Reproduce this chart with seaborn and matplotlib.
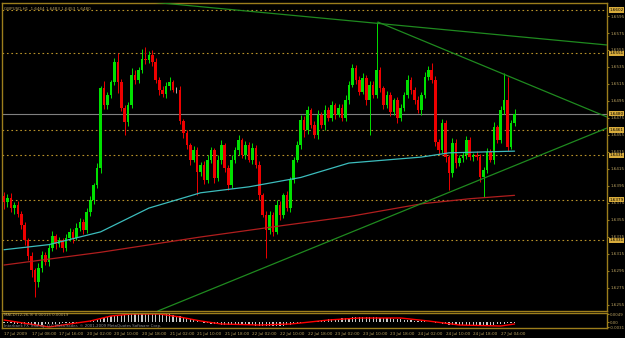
import numpy as np
import pandas as pd
import matplotlib
matplotlib.use("Agg")
import matplotlib.pyplot as plt
import seaborn as sns
from matplotlib.transforms import blended_transform_factory

# GBPUSD H1 closes, 17 Jul 2009 -> 27 Jul 2009 (open = previous close)
first_open = 1.6383
closes = [
    1.6376, 1.6381, 1.6369, 1.6373, 1.6362, 1.6349, 1.6331, 1.6313, 1.6296, 1.6282,
    1.6299, 1.6314, 1.6306, 1.6322, 1.6336, 1.6327, 1.6331, 1.6322, 1.6334, 1.6341,
    1.6334, 1.6346, 1.6353, 1.6343, 1.6364, 1.6379, 1.6396, 1.6416, 1.6510, 1.6490,
    1.6502, 1.6517, 1.6541, 1.6517, 1.6487, 1.6470, 1.6490, 1.6526, 1.6520, 1.6531,
    1.6544, 1.6543, 1.6549, 1.6541, 1.6520, 1.6508, 1.6503, 1.6513, 1.6517, 1.6508,
    1.6508, 1.6471, 1.6457, 1.6443, 1.6426, 1.6437, 1.6411, 1.6420, 1.6402, 1.6426,
    1.6437, 1.6404, 1.6426, 1.6443, 1.6416, 1.6396, 1.6426, 1.6437, 1.6449, 1.6431,
    1.6443, 1.6426, 1.6440, 1.6420, 1.6384, 1.6361, 1.6343, 1.6361, 1.6341, 1.6373,
    1.6361, 1.6384, 1.6369, 1.6402, 1.6426, 1.6443, 1.6473, 1.6461, 1.6484, 1.6467,
    1.6455, 1.6479, 1.6467, 1.6484, 1.6475, 1.6490, 1.6479, 1.6487, 1.6475, 1.6496,
    1.6514, 1.6534, 1.6520, 1.6506, 1.6522, 1.6496, 1.6514, 1.6502, 1.6531, 1.6510,
    1.6490, 1.6502, 1.6482, 1.6496, 1.6475, 1.6487, 1.6502, 1.6520, 1.6508, 1.6496,
    1.6484, 1.6502, 1.6523, 1.6531, 1.6520, 1.6447, 1.6437, 1.6469, 1.6429, 1.6410,
    1.6446, 1.6422, 1.6428, 1.6431, 1.6449, 1.6429, 1.6431, 1.6429, 1.6406, 1.6414,
    1.6435, 1.6426, 1.6464, 1.6449, 1.6484, 1.6496, 1.6441, 1.6469, 1.6480,
]
# wick lengths in pips
upper_wick = [
    5, 4, 6, 3, 4, 3, 4, 3, 4, 3, 5, 4, 3, 5, 6, 3, 4, 3, 5, 4,
    3, 5, 4, 3, 5, 4, 3, 6, 3, 8, 4, 3, 5, 11, 4, 3, 4, 8, 6, 4,
    12, 14, 5, 6, 4, 3, 5, 4, 6, 3, 4, 5, 3, 4, 3, 5, 4, 3, 4, 5,
    4, 3, 5, 6, 3, 4, 5, 4, 6, 3, 5, 4, 6, 3, 4, 3, 5, 4, 3, 5,
    4, 3, 5, 4, 3, 5, 6, 4, 5, 3, 4, 5, 3, 6, 4, 5, 3, 4, 5, 6,
    4, 5, 3, 4, 6, 3, 5, 4, 57, 4, 3, 5, 4, 3, 4, 5, 4, 6, 3, 4,
    5, 4, 6, 5, 9, 4, 3, 5, 4, 3, 5, 4, 3, 4, 5, 4, 3, 5, 4, 3,
    5, 4, 6, 3, 5, 32, 27, 4, 6,
]
lower_wick = [
    8, 6, 5, 7, 4, 5, 6, 5, 8, 18, 6, 5, 4, 5, 3, 6, 4, 5, 3, 4,
    6, 3, 4, 5, 3, 4, 5, 3, 6, 4, 5, 4, 3, 13, 4, 15, 4, 3, 5, 4,
    3, 4, 3, 5, 4, 6, 3, 4, 5, 3, 4, 3, 5, 4, 6, 3, 27, 4, 5, 3,
    4, 6, 3, 5, 4, 6, 3, 4, 5, 3, 4, 3, 5, 4, 6, 3, 33, 4, 5, 3,
    6, 4, 3, 5, 4, 3, 4, 8, 5, 4, 3, 5, 4, 6, 3, 4, 5, 3, 4, 3,
    4, 3, 5, 4, 3, 6, 41, 4, 3, 5, 4, 3, 5, 4, 6, 3, 4, 3, 5, 4,
    3, 5, 4, 3, 4, 5, 4, 3, 6, 20, 4, 6, 3, 5, 4, 3, 5, 4, 6, 24,
    4, 3, 5, 4, 3, 4, 5, 3, 4,
]

# moving averages (bar, price)
ma_fast_bars = [0, 13, 28, 42, 57, 71, 86, 100, 121, 129, 148]
ma_fast_vals = [1.6320, 1.6326, 1.6341, 1.6369, 1.6387, 1.6394, 1.6405, 1.6422, 1.6429, 1.6434, 1.6436]
ma_slow_bars = [0, 28, 57, 80, 100, 121, 135, 148]
ma_slow_vals = [1.6302, 1.6317, 1.6335, 1.6348, 1.6359, 1.6374, 1.6380, 1.6384]

# trend lines (bar, price) end points
trend_lines = [
    ([39.4, 174.8], [1.66127, 1.65609]),
    ([108.4, 174.8], [1.65879, 1.64762]),
    ([44.6, 174.8], [1.62479, 1.64632]),
]
level_prices = [1.6602, 1.6551, 1.6461, 1.6431, 1.6379, 1.6331]
bid_price = 1.6480

# MACD histogram and signal (units of 0.0001)
macd_hist = [
    -6, -6, -6, -9, -9, -12, -12, -12, -15, -15, -15, -15, -12, -12,
    -12, -9, -9, -6, -6, -6, -3, -3, 0,
    3, 6, 6, 9, 12, 18,
    24, 30, 36, 39, 42, 45, 48, 48, 51,
    54, 54, 54, 54, 54, 54, 54, 54, 51,
    48, 48, 42, 39, 36, 30, 24,
    18, 12, 6, 0, -3, -6, -9,
    -12, -12, -15, -15, -18, -18, -18, -18, -18, -18, -18, -18, -21, -21, -24, -24, -24, -24, -24, -21, -21, -18, -15,
    -12, -9, -6, -3, 0, 3, 6, 9, 12, 15, 18, 18,
    21, 21, 24, 24, 27, 30, 30, 30, 30, 30, 30, 30, 30, 27, 27,
    24, 24, 21, 18, 18, 15, 12, 12, 9, 6, 6,
    6, 3, 0, -3, -6, -9, -12, -15, -18,
    -18, -18, -18, -18, -18, -18, -18, -21, -21, -18, -18,
    -15, -12, -12, -9, -6, -6, -6,
]
signal_bars = [0, 13, 25, 31, 37, 45, 51, 57, 63, 74, 83, 86, 94, 103, 115, 123, 132, 144, 148]
signal_vals = [12, -30, 6, 36, 48, 48, 30, 6, -12, -18, -12, -6, 12, 24, 24, 6, -18, -24, -12]

x_labels = ["17 Jul 2009", "17 Jul 08:00", "17 Jul 16:00", "20 Jul 02:00", "20 Jul 10:00",
            "20 Jul 18:00", "21 Jul 02:00", "21 Jul 10:00", "21 Jul 18:00", "22 Jul 02:00",
            "22 Jul 10:00", "22 Jul 18:00", "23 Jul 02:00", "23 Jul 10:00", "23 Jul 18:00",
            "24 Jul 02:00", "24 Jul 10:00", "24 Jul 18:00", "27 Jul 04:00"]
price_ticks = [1.6255 + 0.0020 * k for k in range(18)]

GOLD = "#9c7e1c"
TXT = "#b8a060"
FS = 3.0
sns.set_style("dark", {"axes.facecolor": "black", "figure.facecolor": "black"})
plt.rcParams["font.family"] = ["DejaVu Sans"]

fig = plt.figure(figsize=(6.25, 3.38), dpi=100)
W, H = 625, 338
ax = fig.add_axes([2 / W, 1 - 311 / H, 605 / W, 308 / H])
axm = fig.add_axes([2 / W, 1 - 328 / H, 605 / W, 15 / H])
for a in (ax, axm):
    a.set_facecolor("black")
    a.grid(False)
    for s in a.spines.values():
        s.set_color(GOLD)
        s.set_linewidth(1)

# candles
closes_a = np.array(closes)
opens_a = np.array([first_open] + closes[:-1])
bars = np.arange(len(closes_a))
cols = np.where(closes_a > opens_a, "#00e000", np.where(closes_a < opens_a, "#ee0000", "#b0b0b0"))
top = np.maximum(opens_a, closes_a)
bot = np.minimum(opens_a, closes_a)
highs = top + np.array(upper_wick) * 0.0001
lows = bot - np.array(lower_wick) * 0.0001

for p in level_prices:
    ax.axhline(p, color="#b8922a", lw=0.8, ls=(0, (1.5, 2.5)), zorder=1)
ax.axhline(bid_price, color="#808080", lw=0.8, zorder=1)

ax.vlines(bars, lows, highs, colors=cols, lw=0.7, zorder=3)
ax.bar(bars, np.maximum(top - bot, 0.00004), bottom=bot, width=0.75, color=cols, lw=0, zorder=3)

sns.lineplot(x=ma_fast_bars, y=ma_fast_vals, ax=ax, color="#3cbcbc", lw=0.9, zorder=4)
sns.lineplot(x=ma_slow_bars, y=ma_slow_vals, ax=ax, color="#b01e1e", lw=0.9, zorder=4)
for xs, ys in trend_lines:
    sns.lineplot(x=xs, y=ys, ax=ax, color="#1f8a1f", lw=0.9, zorder=5)

ax.set_xlim(-0.58, 174.8)
ax.set_ylim(1.62479, 1.66103)
ax.set_xticks([])
ax.yaxis.tick_right()
ax.set_yticks(price_ticks)
ax.set_yticklabels([f"{p:.4f}" for p in price_ticks])
ax.tick_params(axis="y", direction="out", length=1.5, color=GOLD, labelcolor=TXT, labelsize=FS, pad=0.8)
ax.set_xlabel("")
ax.set_ylabel("")

tr = blended_transform_factory(ax.transAxes, ax.transData)
for p in level_prices + [bid_price]:
    ax.text(1.004, p, f"{p:.4f}", transform=tr, fontsize=FS, color="black", va="center", ha="left",
            bbox=dict(boxstyle="square,pad=0.15", fc="#d8ac3c", ec="none"), zorder=6, clip_on=False)

ax.text(0.004, 0.988, "GBPUSD,H1  1.6464 1.6483 1.6453 1.6480", transform=ax.transAxes,
        fontsize=FS, color=TXT, va="top", ha="left")

# MACD pane
axm.bar(bars, np.array(macd_hist) * 0.0001, width=0.35, color="#c8c8c8", lw=0)
sns.lineplot(x=signal_bars, y=np.array(signal_vals) * 0.0001, ax=axm, color="#ff0000", lw=1.0)
axm.set_xlim(-0.58, 174.8)
axm.set_ylim(-0.0036, 0.0054)
axm.yaxis.tick_right()
axm.set_yticks([0.0048, 0.0, -0.0031])
axm.set_yticklabels(["0.0049", "0.00", "-0.0031"])
axm.tick_params(axis="y", direction="out", length=1.5, color=GOLD, labelcolor=TXT, labelsize=2.8, pad=0.8)
axm.set_xticks(np.arange(0, 8 * len(x_labels), 8))
axm.set_xticklabels(x_labels, ha="left")
axm.tick_params(axis="x", direction="out", length=2, color=GOLD, labelcolor=TXT, labelsize=FS, pad=1)
axm.set_xlabel("")
axm.set_ylabel("")
axm.text(0.003, 0.97, "MACD(12,26,9) 0.00015 0.00019", transform=axm.transAxes,
         fontsize=2.8, color=TXT, va="top", ha="left")
axm.text(0.003, 0.02, "Interbank FX Trading, LLC MetaTrader, \u00a9 2001-2009 MetaQuotes Software Corp.",
         transform=axm.transAxes, fontsize=2.8, color="#909090", va="bottom", ha="left")

fig.savefig("out.png", dpi=100, facecolor="black")
